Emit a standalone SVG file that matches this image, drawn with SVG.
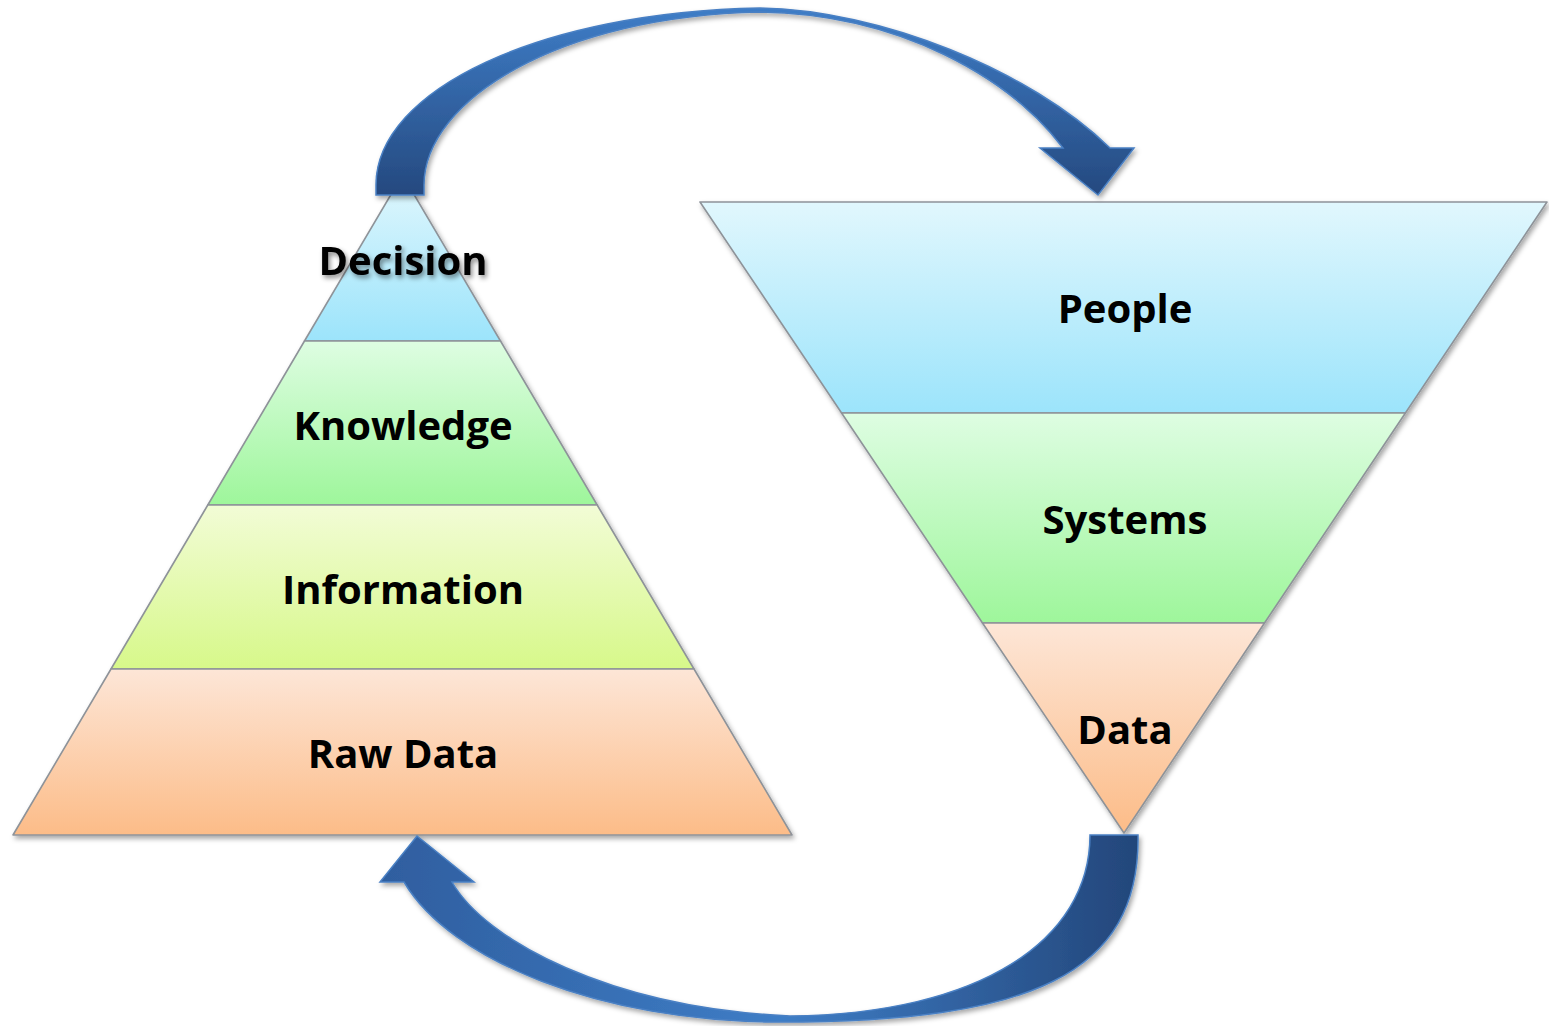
<svg xmlns="http://www.w3.org/2000/svg" width="1549" height="1026" viewBox="0 0 1549 1026">
<style>
.lyr{stroke:#8e9399;stroke-width:1.6;stroke-linejoin:round}
.lbl{font-family:"Open Sans","Liberation Sans",sans-serif;font-weight:bold;font-size:40px;fill:#000;text-anchor:middle}
.arw{stroke:#4a80c4;stroke-width:1.5;stroke-linejoin:miter}
</style>
<defs>
<linearGradient id="gBlue" x1="0" y1="0" x2="0" y2="1"><stop offset="0" stop-color="#e1f7fd"/><stop offset="1" stop-color="#9ce4fb"/></linearGradient>
<linearGradient id="gGreen" x1="0" y1="0" x2="0" y2="1"><stop offset="0" stop-color="#defde2"/><stop offset="1" stop-color="#9ef69b"/></linearGradient>
<linearGradient id="gLime" x1="0" y1="0" x2="0" y2="1"><stop offset="0" stop-color="#f2fcd6"/><stop offset="1" stop-color="#d7f88a"/></linearGradient>
<linearGradient id="gPeach" x1="0" y1="0" x2="0" y2="1"><stop offset="0" stop-color="#fde6d7"/><stop offset="1" stop-color="#fcbc88"/></linearGradient>
<linearGradient id="gTop" gradientUnits="userSpaceOnUse" x1="0" y1="8" x2="0" y2="195"><stop offset="0" stop-color="#3e7dc7"/><stop offset="1" stop-color="#25497f"/></linearGradient>
<linearGradient id="gBot" gradientUnits="userSpaceOnUse" x1="1138" y1="0" x2="380" y2="0"><stop offset="0" stop-color="#23467a"/><stop offset="0.47" stop-color="#3e7dc6"/><stop offset="1" stop-color="#2f5e9f"/></linearGradient>
<filter id="sh" x="-10%" y="-10%" width="120%" height="130%"><feDropShadow dx="2" dy="3" stdDeviation="2.5" flood-color="#000" flood-opacity="0.35"/></filter>
<filter id="tsh" x="-10%" y="-20%" width="120%" height="150%"><feDropShadow dx="2" dy="3" stdDeviation="2.5" flood-color="#000" flood-opacity="0.45"/></filter>
</defs>

<g id="pyramid" filter="url(#sh)">
<g id="decision"><path class="lyr" d="M402.5 175 L500.5 341 L304.5 341 Z" fill="url(#gBlue)"/></g>
<g id="knowledge"><path class="lyr" d="M304.5 341 L500.5 341 L597.2 505 L207.8 505 Z" fill="url(#gGreen)"/></g>
<g id="information"><path class="lyr" d="M207.8 505 L597.2 505 L694 669 L111 669 Z" fill="url(#gLime)"/></g>
<g id="rawdata"><path class="lyr" d="M111 669 L694 669 L792 835 L13 835 Z" fill="url(#gPeach)"/></g>
</g>

<g id="funnel" filter="url(#sh)">
<g id="people"><path class="lyr" d="M700 202 L1547 202 L1405.4 413 L841.6 413 Z" fill="url(#gBlue)"/></g>
<g id="systems"><path class="lyr" d="M841.6 413 L1405.4 413 L1264.5 623 L982.5 623 Z" fill="url(#gGreen)"/></g>
<g id="data"><path class="lyr" d="M982.5 623 L1264.5 623 L1124 833 Z" fill="url(#gPeach)"/></g>
</g>

<g id="connectors" filter="url(#sh)">
<path id="arrow-top" class="arw" fill="url(#gTop)" d="M376 195 L376 185 C376 90 540 12 760 8 C880 10 1030 70 1110 148 L1134 148 L1098 195 L1040 148 L1063 148 C1010 78 900 14 760 12 C560 16 424 100 424 185 L424 195 Z"/>
<path id="arrow-bottom" class="arw" fill="url(#gBot)" d="M1138 835 C1140 975 1030 1022 780 1022 C600 1022 450 960 404 882 L380 882 L417 836 L474 882 L452 882 C485 940 610 1008 790 1016 C980 1014 1090 940 1090 835 Z"/>
</g>

<g id="labels">
<text class="lbl" x="403" y="275" filter="url(#tsh)">Decision</text>
<text class="lbl" x="403" y="440">Knowledge</text>
<text class="lbl" x="403" y="604">Information</text>
<text class="lbl" x="403" y="768">Raw Data</text>
<text class="lbl" x="1125" y="323">People</text>
<text class="lbl" x="1125" y="534">Systems</text>
<text class="lbl" x="1125" y="744">Data</text>
</g>
</svg>
